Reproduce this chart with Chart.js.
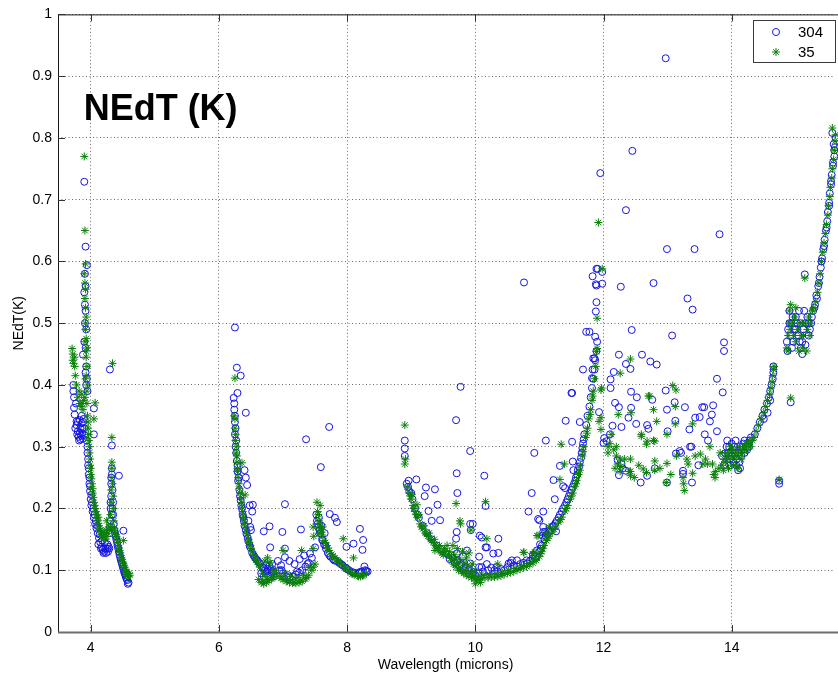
<!DOCTYPE html>
<html>
<head>
<meta charset="utf-8">
<title>NEdT (K)</title>
<script src="https://cdn.jsdelivr.net/npm/chart.js@4.4.0/dist/chart.umd.min.js"></script>
<style>
  html, body { margin: 0; padding: 0; background: #fff; overflow: hidden; }
  #chart { display: block; }
</style>
</head>
<body>
<canvas id="chart" width="838" height="677"></canvas>
<script>
// NEdT vs wavelength, two detector runs (304 and 35)
"use strict";

// Axis ticks
var xTicks = [4, 6, 8, 10, 12, 14];
var yTicks = [0, 0.1, 0.2, 0.3, 0.4, 0.5, 0.6, 0.7, 0.8, 0.9, 1];
var yTickLabels = ['0', '0.1', '0.2', '0.3', '0.4', '0.5', '0.6', '0.7', '0.8', '0.9', '1'];

// Series names
var seriesNames = ['304', '35'];

// [wavelength (microns), NEdT (K)], band by band
var band1_304 = [
  [3.90, 0.729], [3.92, 0.624], [3.94, 0.594], [4.05, 0.362], [4.05, 0.320], [4.44, 0.253],
  [4.30, 0.425], [4.33, 0.302], [4.51, 0.164],
  [3.91, 0.58], [3.92, 0.56], [3.90, 0.55], [3.91, 0.53], [3.92, 0.52], [3.91, 0.50], [3.93, 0.49],
  [3.90, 0.47], [3.92, 0.46], [3.88, 0.449], [3.93, 0.43], [3.92, 0.42], [3.94, 0.41], [3.93, 0.40], [3.95, 0.39],
  [3.73, 0.400], [3.73, 0.39], [3.74, 0.363], [3.75, 0.352], [3.78, 0.341], [3.77, 0.37], [3.74, 0.38],
  [3.78, 0.335], [3.80, 0.325], [3.81, 0.316], [3.83, 0.343], [3.84, 0.33], [3.85, 0.318], [3.86, 0.338],
  [3.87, 0.322], [3.88, 0.313], [3.89, 0.345], [3.90, 0.33], [3.91, 0.318], [3.82, 0.31], [3.86, 0.35],
  [3.79, 0.32], [3.83, 0.322], [3.87, 0.33], [3.80, 0.34], [3.84, 0.312], [3.88, 0.34], [3.76, 0.33],
  [3.94, 0.31], [3.95, 0.29], [3.96, 0.27], [3.97, 0.255], [3.98, 0.24], [3.99, 0.228], [4.00, 0.215],
  [4.01, 0.205], [4.03, 0.195], [4.05, 0.185], [4.07, 0.175], [4.09, 0.168], [4.11, 0.16], [4.13, 0.152],
  [4.15, 0.145], [4.17, 0.138], [4.19, 0.133], [4.21, 0.13], [4.24, 0.128], [4.27, 0.13], [4.29, 0.135],
  [3.95, 0.30], [3.96, 0.28], [3.97, 0.265], [3.98, 0.25], [3.99, 0.236], [4.01, 0.222], [4.02, 0.21],
  [4.04, 0.2], [4.06, 0.19], [4.08, 0.18], [4.10, 0.172], [4.14, 0.158], [4.26, 0.135], [4.28, 0.138],
  [4.12, 0.142], [4.16, 0.135], [4.20, 0.128], [4.23, 0.135], [4.26, 0.142], [4.18, 0.148], [4.22, 0.145],
  [4.30, 0.16], [4.31, 0.18], [4.31, 0.20], [4.32, 0.22], [4.32, 0.24], [4.33, 0.255], [4.33, 0.265],
  [4.34, 0.23], [4.35, 0.21], [4.35, 0.19], [4.36, 0.175], [4.32, 0.25], [4.31, 0.21], [4.33, 0.19],
  [4.34, 0.2], [4.30, 0.17],
  [4.37, 0.165], [4.39, 0.155], [4.41, 0.145], [4.43, 0.135], [4.45, 0.125], [4.47, 0.117], [4.49, 0.11],
  [4.51, 0.102], [4.53, 0.095], [4.55, 0.089], [4.57, 0.084], [4.59, 0.080], [4.58, 0.078],
  [4.38, 0.16], [4.40, 0.15], [4.42, 0.14], [4.44, 0.13], [4.46, 0.121], [4.48, 0.113], [4.50, 0.106],
  [4.52, 0.098], [4.54, 0.092], [4.56, 0.086]
];

var band1_35 = [
  [3.90, 0.770], [3.91, 0.650], [3.92, 0.596], [4.34, 0.435], [4.33, 0.315], [4.07, 0.371], [4.05, 0.345],
  [4.51, 0.148],
  [3.71, 0.459], [3.72, 0.45], [3.72, 0.44], [3.73, 0.435], [3.75, 0.445], [3.75, 0.43], [3.76, 0.415], [3.78, 0.40],
  [3.90, 0.58], [3.91, 0.565], [3.92, 0.555], [3.91, 0.54], [3.92, 0.525], [3.93, 0.51], [3.92, 0.49],
  [3.93, 0.475], [3.94, 0.46], [3.93, 0.445], [3.94, 0.43], [3.93, 0.415], [3.95, 0.40], [3.94, 0.39],
  [3.92, 0.50], [3.91, 0.47], [3.93, 0.455], [3.92, 0.41], [3.94, 0.37],
  [3.80, 0.38], [3.83, 0.37], [3.85, 0.365], [3.87, 0.37], [3.89, 0.375], [3.91, 0.38], [3.86, 0.385],
  [3.82, 0.39], [3.88, 0.36],
  [3.95, 0.35], [3.96, 0.33], [3.97, 0.31], [3.98, 0.29], [3.99, 0.27], [4.00, 0.255], [4.02, 0.24],
  [4.03, 0.225], [4.05, 0.21], [4.07, 0.2], [4.09, 0.19], [4.11, 0.18], [4.13, 0.172], [4.15, 0.165],
  [4.17, 0.16], [4.19, 0.155], [4.21, 0.152], [4.23, 0.15], [4.25, 0.155], [4.27, 0.16], [4.29, 0.165],
  [3.96, 0.34], [3.97, 0.32], [3.98, 0.30], [3.99, 0.28], [4.00, 0.265], [4.01, 0.248], [4.03, 0.232],
  [4.04, 0.218], [4.06, 0.205], [4.08, 0.195], [4.10, 0.185], [4.12, 0.176], [4.14, 0.168], [4.16, 0.162],
  [4.18, 0.158], [4.22, 0.16], [4.24, 0.165], [4.28, 0.17], [4.25, 0.18], [4.12, 0.186],
  [4.31, 0.17], [4.31, 0.19], [4.32, 0.21], [4.32, 0.23], [4.33, 0.25], [4.33, 0.265], [4.33, 0.275],
  [4.34, 0.24], [4.35, 0.22], [4.35, 0.2], [4.36, 0.18], [4.37, 0.168],
  [4.39, 0.158], [4.41, 0.15], [4.43, 0.14], [4.45, 0.132], [4.47, 0.124], [4.49, 0.117], [4.51, 0.11],
  [4.53, 0.104], [4.55, 0.098], [4.57, 0.094], [4.59, 0.09], [4.61, 0.092],
  [4.38, 0.162], [4.40, 0.154], [4.42, 0.145], [4.44, 0.136], [4.46, 0.128], [4.48, 0.12], [4.50, 0.113],
  [4.52, 0.107], [4.54, 0.101], [4.56, 0.096], [4.58, 0.092], [4.60, 0.095]
];

var band2_304 = [
  [6.25, 0.493], [6.28, 0.428], [6.34, 0.415], [6.29, 0.387], [6.42, 0.355], [7.36, 0.312], [7.72, 0.332],
  [7.59, 0.267], [7.03, 0.207], [6.79, 0.171], [6.70, 0.163], [6.99, 0.162], [7.28, 0.166], [8.20, 0.167],
  [8.25, 0.149], [8.24, 0.133], [8.10, 0.143], [7.99, 0.138], [7.73, 0.191], [7.81, 0.185], [7.84, 0.178],
  [6.53, 0.206], [6.49, 0.170], [6.80, 0.137], [7.03, 0.135], [8.27, 0.106],
  [6.40, 0.262], [6.42, 0.25], [6.44, 0.238], [6.48, 0.205], [6.52, 0.195], [6.46, 0.18], [6.50, 0.165],
  [6.23, 0.379], [6.24, 0.36], [6.25, 0.34], [6.25, 0.32], [6.26, 0.30], [6.28, 0.277], [6.29, 0.26],
  [6.30, 0.245], [6.32, 0.23], [6.34, 0.213], [6.36, 0.2], [6.38, 0.186], [6.40, 0.172], [6.43, 0.159],
  [6.46, 0.147], [6.49, 0.137], [6.52, 0.128], [6.56, 0.121], [6.60, 0.116], [6.64, 0.111],
  [6.24, 0.37], [6.25, 0.35], [6.26, 0.33], [6.27, 0.31], [6.27, 0.29], [6.29, 0.27], [6.31, 0.25],
  [6.33, 0.22], [6.35, 0.205], [6.37, 0.19], [6.39, 0.18], [6.42, 0.165], [6.45, 0.152], [6.48, 0.14],
  [6.54, 0.124], [6.58, 0.118], [6.62, 0.113],
  [6.68, 0.105], [6.72, 0.10], [6.75, 0.098], [6.78, 0.10], [6.81, 0.102], [6.84, 0.098], [6.74, 0.108],
  [6.79, 0.107], [6.70, 0.09], [6.86, 0.09], [6.66, 0.095], [6.83, 0.11], [6.70, 0.103], [6.76, 0.102],
  [6.82, 0.096],
  [6.95, 0.10], [7.00, 0.095], [7.05, 0.09], [7.10, 0.088], [7.15, 0.09], [7.20, 0.093], [7.25, 0.096],
  [7.30, 0.10], [7.35, 0.106], [7.40, 0.112], [7.45, 0.12], [7.03, 0.121], [7.10, 0.115], [7.18, 0.11],
  [7.26, 0.118], [7.33, 0.124], [7.42, 0.127], [7.50, 0.137], [6.92, 0.115], [6.97, 0.108],
  [6.98, 0.1], [7.08, 0.092], [7.22, 0.098], [7.38, 0.11],
  [7.52, 0.19], [7.53, 0.18], [7.55, 0.17], [7.58, 0.16], [7.61, 0.15], [7.64, 0.142], [7.67, 0.135],
  [7.70, 0.128], [7.74, 0.122], [7.78, 0.118], [7.83, 0.115], [7.88, 0.112], [7.93, 0.108], [7.98, 0.104],
  [8.03, 0.1], [8.08, 0.097], [8.13, 0.095], [8.18, 0.096], [8.23, 0.098], [8.28, 0.1], [8.32, 0.098],
  [7.56, 0.185], [7.60, 0.172], [7.65, 0.16], [7.54, 0.175], [7.57, 0.165], [7.62, 0.148], [7.66, 0.14],
  [7.72, 0.125], [7.80, 0.116], [7.90, 0.11], [8.00, 0.102], [8.10, 0.096], [8.20, 0.097], [8.30, 0.099]
];

var band2_35 = [
  [6.25, 0.411], [6.36, 0.274], [6.41, 0.222],
  [6.24, 0.35], [6.25, 0.33], [6.26, 0.31], [6.27, 0.29], [6.28, 0.275], [6.29, 0.26], [6.31, 0.24],
  [6.33, 0.225], [6.35, 0.21], [6.37, 0.195], [6.39, 0.182], [6.41, 0.17], [6.44, 0.157], [6.47, 0.145],
  [6.50, 0.135], [6.54, 0.125], [6.58, 0.117], [6.62, 0.11],
  [6.25, 0.345], [6.26, 0.32], [6.27, 0.30], [6.28, 0.285], [6.29, 0.265], [6.30, 0.25], [6.32, 0.232],
  [6.34, 0.218], [6.36, 0.202], [6.38, 0.188], [6.40, 0.176], [6.43, 0.163], [6.46, 0.15], [6.49, 0.14],
  [6.52, 0.13], [6.56, 0.12], [6.60, 0.113],
  [6.66, 0.08], [6.70, 0.078], [6.74, 0.08], [6.78, 0.083], [6.82, 0.086], [6.86, 0.09], [6.90, 0.095],
  [6.68, 0.095], [6.72, 0.115], [6.76, 0.12], [6.80, 0.112], [6.64, 0.105], [6.72, 0.09], [6.85, 0.1],
  [6.68, 0.082], [6.76, 0.085], [6.84, 0.088], [6.62, 0.085], [6.88, 0.1],
  [6.95, 0.09], [7.00, 0.085], [7.05, 0.082], [7.10, 0.08], [7.15, 0.079], [7.20, 0.079], [7.25, 0.08],
  [7.30, 0.082], [7.35, 0.086], [7.40, 0.092], [7.45, 0.1], [7.50, 0.11], [7.02, 0.095], [7.12, 0.09],
  [7.22, 0.088], [7.32, 0.092], [7.42, 0.105], [7.00, 0.132], [7.29, 0.132], [7.47, 0.135],
  [6.97, 0.087], [7.07, 0.083], [7.17, 0.081], [7.27, 0.083], [7.37, 0.088], [7.47, 0.105],
  [7.53, 0.21], [7.54, 0.195], [7.56, 0.18], [7.58, 0.168], [7.61, 0.157], [7.64, 0.148], [7.68, 0.14],
  [7.72, 0.132], [7.76, 0.126], [7.81, 0.12], [7.86, 0.115], [7.91, 0.11], [7.96, 0.105], [8.01, 0.1],
  [8.06, 0.096], [8.11, 0.093], [8.16, 0.091], [8.21, 0.09], [8.26, 0.092], [8.30, 0.095], [7.56, 0.16],
  [7.62, 0.17], [7.58, 0.205], [7.47, 0.17], [7.48, 0.155], [7.94, 0.151], [8.10, 0.12],
  [7.55, 0.19], [7.57, 0.175], [7.60, 0.162], [7.66, 0.145], [7.70, 0.136], [7.78, 0.123], [7.84, 0.117],
  [7.88, 0.112], [7.98, 0.102], [8.08, 0.094], [8.18, 0.09], [8.24, 0.091]
];

var band3_304 = [
  [8.90, 0.310], [8.90, 0.297], [8.90, 0.285], [9.77, 0.397], [9.70, 0.343], [9.92, 0.293], [9.71, 0.257],
  [10.14, 0.253], [9.72, 0.225], [10.16, 0.204], [8.96, 0.245], [9.08, 0.247], [9.23, 0.234], [9.37, 0.231],
  [9.21, 0.220], [9.41, 0.206], [9.27, 0.196], [9.32, 0.180], [9.45, 0.181], [9.92, 0.175], [9.96, 0.175],
  [10.07, 0.156], [10.36, 0.151], [10.18, 0.137], [10.36, 0.128], [10.52, 0.111], [10.65, 0.116],
  [10.80, 0.116], [10.93, 0.119], [11.06, 0.162], [11.06, 0.170], [10.76, 0.566], [10.92, 0.290],
  [10.88, 0.225], [10.83, 0.195], [11.06, 0.195], [10.98, 0.183],
  [9.71, 0.162], [9.93, 0.165], [10.10, 0.153], [10.16, 0.137], [10.28, 0.127], [10.06, 0.122],
  [9.87, 0.132], [9.92, 0.111], [9.81, 0.122], [9.71, 0.127], [9.70, 0.151], [9.97, 0.097], [10.06, 0.105],
  [10.18, 0.11], [10.33, 0.105], [10.45, 0.10], [10.57, 0.116], [10.81, 0.111], [10.89, 0.119],
  [10.96, 0.132], [11.01, 0.142], [11.05, 0.156],
  [8.93, 0.24], [8.97, 0.228], [9.02, 0.215], [9.06, 0.2], [9.12, 0.185], [9.18, 0.172], [9.25, 0.16],
  [9.32, 0.15], [9.40, 0.14], [9.47, 0.133], [9.53, 0.128], [9.58, 0.125], [8.95, 0.235], [9.0, 0.225],
  [9.1, 0.19],
  [9.65, 0.12], [9.72, 0.115], [9.78, 0.11], [9.85, 0.105], [9.90, 0.10], [9.95, 0.095], [10.0, 0.092],
  [10.05, 0.095], [10.12, 0.098], [10.2, 0.1], [10.3, 0.1], [10.4, 0.102], [10.5, 0.105], [10.6, 0.108],
  [10.7, 0.11], [10.85, 0.115], [10.95, 0.122], [11.0, 0.13],
  [9.6, 0.118], [9.68, 0.112], [9.75, 0.108], [9.82, 0.1], [10.1, 0.105], [10.25, 0.104], [10.35, 0.098],
  [10.55, 0.112], [10.65, 0.106], [10.75, 0.112], [10.9, 0.125], [11.02, 0.135]
];

var band3_35 = [
  [8.90, 0.335], [8.91, 0.28], [8.90, 0.272],
  [8.94, 0.235], [8.97, 0.225], [9.0, 0.215], [9.03, 0.205], [9.06, 0.195], [9.1, 0.185], [9.14, 0.175],
  [9.18, 0.167], [9.22, 0.16], [9.26, 0.155], [9.3, 0.15], [9.34, 0.145], [9.38, 0.14], [9.42, 0.135],
  [9.46, 0.13], [9.5, 0.125], [9.53, 0.13], [9.56, 0.14], [9.01, 0.223], [9.09, 0.206], [9.12, 0.19],
  [9.20, 0.172], [9.28, 0.16], [9.36, 0.15], [9.44, 0.14], [9.37, 0.132],
  [9.52, 0.135], [9.48, 0.128], [9.40, 0.138], [9.32, 0.148], [9.24, 0.158], [9.16, 0.17], [9.08, 0.19],
  [9.04, 0.2], [8.99, 0.22], [9.58, 0.125], [9.60, 0.13],
  [9.70, 0.208], [10.16, 0.211], [9.76, 0.18], [9.77, 0.175], [9.93, 0.165], [10.18, 0.151], [10.35, 0.11],
  [10.75, 0.129], [10.89, 0.127], [10.96, 0.156], [10.76, 0.129], [10.93, 0.129],
  [9.62, 0.12], [9.66, 0.11], [9.70, 0.105], [9.74, 0.10], [9.78, 0.098], [9.82, 0.095], [9.86, 0.092],
  [9.9, 0.09], [9.94, 0.088], [9.98, 0.086], [10.02, 0.084], [10.06, 0.085], [10.1, 0.087], [10.15, 0.088],
  [10.2, 0.088], [10.25, 0.089], [10.3, 0.089], [10.35, 0.09], [10.4, 0.091], [10.45, 0.093], [10.5, 0.095],
  [10.55, 0.096], [10.6, 0.098], [10.65, 0.1], [10.7, 0.102], [10.75, 0.104], [10.8, 0.106], [10.85, 0.109],
  [10.9, 0.112], [10.95, 0.116], [11.0, 0.122], [9.68, 0.125], [9.75, 0.118], [9.82, 0.112], [9.88, 0.108],
  [9.95, 0.11], [10.0, 0.1], [9.92, 0.098], [9.86, 0.12], [9.80, 0.13], [9.72, 0.135], [9.65, 0.14],
  [9.90, 0.128], [9.63, 0.115], [9.67, 0.118], [9.71, 0.11], [9.76, 0.105], [9.84, 0.1], [9.96, 0.094],
  [10.04, 0.09], [10.12, 0.092], [10.22, 0.093], [10.32, 0.094], [10.42, 0.096], [10.52, 0.099],
  [10.62, 0.103], [10.72, 0.107], [10.82, 0.111], [10.92, 0.118], [11.02, 0.127], [10.08, 0.08],
  [10.0, 0.078]
];

var band4_304 = [
  [11.50, 0.387], [11.41, 0.342], [11.63, 0.340], [11.51, 0.308], [11.10, 0.310], [11.22, 0.246],
  [11.32, 0.269], [11.40, 0.233], [11.52, 0.276], [11.53, 0.262], [11.24, 0.215], [11.37, 0.236],
  [11.26, 0.163], [11.09, 0.162], [11.00, 0.181],
  [11.04, 0.14], [11.08, 0.15], [11.12, 0.158], [11.17, 0.165], [11.22, 0.172], [11.27, 0.18], [11.32, 0.19],
  [11.37, 0.2], [11.42, 0.21], [11.46, 0.22], [11.5, 0.23], [11.54, 0.24], [11.57, 0.25], [11.6, 0.262],
  [11.63, 0.275], [11.66, 0.29], [11.68, 0.305], [11.7, 0.32], [11.73, 0.335], [11.75, 0.35], [11.78, 0.365],
  [11.8, 0.38], [11.82, 0.395], [11.84, 0.41], [11.86, 0.425], [11.87, 0.44], [11.89, 0.455], [11.9, 0.47],
  [11.1, 0.155], [11.15, 0.162], [11.2, 0.17], [11.25, 0.176], [11.3, 0.185], [11.35, 0.195], [11.4, 0.205],
  [11.44, 0.215], [11.48, 0.225], [11.52, 0.235], [11.56, 0.245], [11.59, 0.255], [11.62, 0.268],
  [11.65, 0.282], [11.67, 0.298], [11.69, 0.312],
  [11.83, 0.576], [11.89, 0.588], [11.89, 0.561], [11.89, 0.534], [11.88, 0.519], [11.78, 0.486],
  [11.87, 0.478], [11.86, 0.443], [11.68, 0.425], [11.83, 0.425], [11.82, 0.411],
  [11.95, 0.743], [12.45, 0.779], [12.35, 0.683], [13.81, 0.644], [12.99, 0.620], [13.42, 0.620],
  [12.97, 0.929], [11.91, 0.588], [11.98, 0.583], [11.88, 0.563], [11.98, 0.564], [12.27, 0.559], [12.78, 0.565],
  [13.31, 0.540], [13.39, 0.522], [12.44, 0.489], [13.07, 0.480], [11.73, 0.486], [13.88, 0.469],
  [13.88, 0.455], [12.24, 0.449], [12.60, 0.449], [12.73, 0.438], [12.83, 0.433], [12.35, 0.434],
  [12.42, 0.426], [11.84, 0.443], [12.16, 0.421], [12.11, 0.409], [12.11, 0.395], [13.77, 0.410],
  [13.86, 0.388], [12.97, 0.391], [12.43, 0.389], [12.76, 0.376], [11.51, 0.387], [12.18, 0.371],
  [12.24, 0.364], [12.43, 0.363], [12.99, 0.360], [13.11, 0.372], [13.27, 0.364], [13.54, 0.364],
  [13.57, 0.364], [13.71, 0.367], [12.39, 0.347], [11.93, 0.356], [12.14, 0.334], [12.28, 0.332],
  [12.51, 0.337], [12.68, 0.335], [13.12, 0.342], [13.43, 0.347], [13.50, 0.348], [13.66, 0.341],
  [13.69, 0.352], [12.70, 0.329], [13.00, 0.325], [13.34, 0.328], [13.58, 0.320], [13.77, 0.325],
  [13.19, 0.293], [13.37, 0.300], [12.10, 0.320], [12.05, 0.309], [12.01, 0.314], [12.00, 0.306],
  [12.22, 0.278], [12.28, 0.272], [12.30, 0.265], [12.24, 0.254], [12.35, 0.261], [12.58, 0.242],
  [12.68, 0.253], [12.80, 0.265], [12.99, 0.242], [13.13, 0.289], [13.21, 0.290], [13.24, 0.261],
  [13.24, 0.256], [13.38, 0.242], [13.35, 0.300], [13.90, 0.289], [14.13, 0.265], [14.10, 0.262],
  [14.74, 0.245], [14.74, 0.240], [15.14, 0.579], [12.52, 0.38], [13.48, 0.27], [13.63, 0.31],
  [13.92, 0.30], [13.95, 0.29], [13.97, 0.28], [14.0, 0.285], [14.02, 0.295], [14.05, 0.29], [14.08, 0.28],
  [14.1, 0.29], [14.13, 0.30], [14.16, 0.295], [14.18, 0.305], [14.2, 0.31], [14.22, 0.3], [14.25, 0.305],
  [14.28, 0.31], [14.3, 0.315], [13.98, 0.27], [14.03, 0.275], [14.07, 0.27], [13.93, 0.31], [14.0, 0.305],
  [14.12, 0.275], [13.85, 0.285], [13.88, 0.27], [13.96, 0.3], [14.04, 0.3], [14.15, 0.285], [14.2, 0.29],
  [14.24, 0.295], [14.27, 0.3], [14.06, 0.31],
  [14.36, 0.32], [14.40, 0.33], [14.44, 0.34], [14.48, 0.35], [14.51, 0.36], [14.55, 0.37], [14.58, 0.38],
  [14.6, 0.39], [14.62, 0.40], [14.64, 0.41], [14.65, 0.42], [14.65, 0.43], [14.60, 0.375], [14.56, 0.355],
  [14.5, 0.345], [14.92, 0.372],
  [14.86, 0.47], [14.88, 0.49], [14.9, 0.5], [14.92, 0.48], [14.94, 0.46], [14.96, 0.47], [14.98, 0.49],
  [15.0, 0.51], [15.02, 0.5], [15.04, 0.48], [15.06, 0.47], [15.08, 0.46], [15.1, 0.47], [15.12, 0.49],
  [15.15, 0.5], [15.18, 0.51], [15.2, 0.5], [15.22, 0.49], [15.25, 0.51], [14.9, 0.52], [14.95, 0.51],
  [15.05, 0.52], [15.1, 0.45], [14.87, 0.455], [15.15, 0.465], [14.93, 0.5], [15.0, 0.49], [15.07, 0.5],
  [15.13, 0.52], [15.2, 0.48], [15.24, 0.5],
  [15.27, 0.52], [15.3, 0.53], [15.33, 0.54], [15.35, 0.56], [15.37, 0.575], [15.39, 0.59], [15.41, 0.605],
  [15.43, 0.62], [15.45, 0.635], [15.47, 0.65], [15.49, 0.665], [15.5, 0.68], [15.52, 0.695], [15.53, 0.71],
  [15.55, 0.725], [15.56, 0.74], [15.58, 0.755], [15.6, 0.77], [15.61, 0.785], [15.62, 0.8], [15.57, 0.808],
  [15.59, 0.79], [15.29, 0.525], [15.32, 0.545], [15.36, 0.565], [15.4, 0.6], [15.44, 0.625], [15.48, 0.655],
  [15.52, 0.69], [15.55, 0.73], [15.58, 0.76], [15.6, 0.78]
];

var band4_35 = [
  [11.34, 0.304], [11.39, 0.272], [11.32, 0.247], [10.98, 0.156], [11.1, 0.16], [11.15, 0.17],
  [11.03, 0.13], [11.07, 0.14], [11.11, 0.148], [11.15, 0.155], [11.2, 0.162], [11.25, 0.17], [11.3, 0.178],
  [11.35, 0.186], [11.4, 0.196], [11.44, 0.205], [11.48, 0.215], [11.52, 0.225], [11.55, 0.235], [11.58, 0.245],
  [11.61, 0.255], [11.64, 0.27], [11.67, 0.285], [11.69, 0.30], [11.72, 0.315], [11.75, 0.33], [11.77, 0.345],
  [11.8, 0.36], [11.82, 0.375], [11.84, 0.39], [11.86, 0.41], [11.88, 0.43], [11.89, 0.454], [11.90, 0.459],
  [11.90, 0.508], [11.92, 0.663], [11.98, 0.588],
  [11.05, 0.135], [11.13, 0.152], [11.23, 0.166], [11.33, 0.182], [11.42, 0.2], [11.5, 0.22], [11.57, 0.24],
  [11.63, 0.262], [11.68, 0.292], [11.74, 0.322], [11.79, 0.352], [11.83, 0.382],
  [11.97, 0.395], [11.96, 0.347], [11.96, 0.328], [12.07, 0.30], [12.07, 0.29], [12.23, 0.352], [12.26, 0.28],
  [12.26, 0.26], [12.42, 0.26], [12.42, 0.28], [12.59, 0.32], [12.70, 0.382], [12.83, 0.341], [12.67, 0.304],
  [12.78, 0.31],
  [12.42, 0.442], [12.26, 0.419], [13.08, 0.399], [13.13, 0.392], [12.72, 0.382], [11.96, 0.392],
  [12.43, 0.355], [12.78, 0.360], [11.93, 0.341], [13.12, 0.365], [13.12, 0.337], [13.39, 0.337],
  [12.99, 0.320], [12.59, 0.317], [12.68, 0.309], [12.80, 0.309], [12.20, 0.300], [12.10, 0.305],
  [12.16, 0.295], [12.20, 0.285], [12.22, 0.272], [12.18, 0.265], [12.27, 0.268], [12.42, 0.253],
  [12.40, 0.26], [12.62, 0.264], [12.67, 0.258], [12.80, 0.277], [12.80, 0.262], [12.99, 0.273],
  [12.98, 0.242], [13.14, 0.285], [13.30, 0.280], [13.32, 0.272], [13.24, 0.250], [13.25, 0.24],
  [13.26, 0.229], [13.39, 0.257], [13.43, 0.285], [13.51, 0.288], [13.59, 0.280], [13.55, 0.272],
  [13.62, 0.272], [13.70, 0.272], [13.74, 0.250], [12.55, 0.27], [12.48, 0.25], [12.88, 0.265],
  [13.05, 0.255], [12.33, 0.28], [12.12, 0.32], [13.66, 0.30],
  [13.85, 0.27], [13.88, 0.28], [13.9, 0.275], [13.93, 0.285], [13.96, 0.28], [13.99, 0.29], [14.02, 0.285],
  [14.05, 0.28], [14.08, 0.29], [14.11, 0.285], [14.14, 0.295], [14.17, 0.29], [14.2, 0.3], [14.23, 0.295],
  [14.26, 0.305], [14.29, 0.3], [14.32, 0.31], [13.95, 0.265], [14.0, 0.27], [14.06, 0.27], [13.8, 0.265],
  [13.75, 0.26], [13.72, 0.255], [13.82, 0.29], [14.12, 0.3], [13.98, 0.3], [14.1, 0.265],
  [13.91, 0.29], [14.03, 0.295], [14.15, 0.28], [14.22, 0.305], [14.28, 0.31], [13.87, 0.262],
  [14.35, 0.315], [14.38, 0.325], [14.42, 0.335], [14.46, 0.345], [14.5, 0.355], [14.53, 0.365],
  [14.56, 0.375], [14.59, 0.385], [14.61, 0.395], [14.63, 0.405], [14.64, 0.415], [14.65, 0.425],
  [14.66, 0.43], [14.92, 0.379], [14.74, 0.247],
  [14.86, 0.46], [14.88, 0.48], [14.9, 0.5], [14.9, 0.52], [14.92, 0.53], [14.95, 0.5], [14.97, 0.48],
  [15.0, 0.47], [15.03, 0.49], [15.05, 0.5], [15.08, 0.48], [15.1, 0.46], [15.12, 0.48], [15.15, 0.5],
  [15.18, 0.49], [15.2, 0.51], [15.23, 0.5], [15.26, 0.52], [14.88, 0.455], [15.14, 0.573], [15.05, 0.455],
  [15.17, 0.455], [15.0, 0.525], [14.91, 0.49], [14.98, 0.51], [15.1, 0.5], [15.22, 0.48],
  [15.28, 0.525], [15.31, 0.535], [15.34, 0.55], [15.36, 0.565], [15.38, 0.58], [15.4, 0.6], [15.42, 0.615],
  [15.44, 0.63], [15.46, 0.645], [15.48, 0.66], [15.5, 0.675], [15.51, 0.69], [15.53, 0.705], [15.54, 0.72],
  [15.56, 0.735], [15.57, 0.75], [15.59, 0.765], [15.6, 0.78], [15.61, 0.795], [15.57, 0.816], [15.62, 0.805]
];

var colours = {
  s304: '#1414e6',
  s35: '#0a800a'
};

function toPoints(bands) {
  // Flatten [x, y] pairs into chart points
  var out = [];
  bands.forEach(function (band) {
    band.forEach(function (p) { out.push({ x: p[0], y: p[1] }); });
  });
  return out;
}

// Draw a MATLAB style marker (used by the legend)
function marker(ctx, style, x, y, r, colour) {
  ctx.save();
  ctx.strokeStyle = colour;
  ctx.lineWidth = 1;
  ctx.beginPath();
  if (style === 'circle') {
    ctx.arc(x, y, r, 0, Math.PI * 2);
  } else {
    var d = r * Math.SQRT1_2;
    ctx.moveTo(x - r, y); ctx.lineTo(x + r, y);
    ctx.moveTo(x, y - r); ctx.lineTo(x, y + r);
    ctx.moveTo(x - d, y - d); ctx.lineTo(x + d, y + d);
    ctx.moveTo(x - d, y + d); ctx.lineTo(x + d, y - d);
  }
  ctx.stroke();
  ctx.restore();
}

// Axes box and inward ticks, MATLAB look
var axesBox = {
  id: 'axesBox',
  beforeDatasetsDraw: function (chart) {
    var ctx = chart.ctx, a = chart.chartArea;
    var xs = chart.scales.x, ys = chart.scales.y;
    ctx.save();
    ctx.lineWidth = 1;
    ctx.strokeStyle = '#1a1a1a';
    ctx.beginPath();
    ctx.moveTo(a.left + 0.5, a.bottom);
    ctx.lineTo(a.left + 0.5, a.top + 0.5);
    ctx.lineTo(chart.width, a.top + 0.5);
    ctx.stroke();
    // inward ticks
    ctx.strokeStyle = '#333';
    ctx.beginPath();
    yTicks.forEach(function (v) {
      var py = Math.round(ys.getPixelForValue(v)) + 0.5;
      ctx.moveTo(a.left, py); ctx.lineTo(a.left + 7, py);
    });
    xTicks.forEach(function (v) {
      var px = Math.round(xs.getPixelForValue(v)) + 0.5;
      ctx.moveTo(px, a.bottom); ctx.lineTo(px, a.bottom - 7);
      ctx.moveTo(px, a.top); ctx.lineTo(px, a.top + 7);
    });
    ctx.stroke();
    ctx.lineWidth = 2;
    ctx.strokeStyle = '#6e6e6e';
    ctx.beginPath();
    ctx.moveTo(a.left, a.bottom + 0.5);
    ctx.lineTo(chart.width, a.bottom + 0.5);
    ctx.stroke();
    ctx.restore();
  }
};

// Big label inside the plot and the boxed legend
var overlay = {
  id: 'overlay',
  afterDraw: function (chart) {
    var ctx = chart.ctx, xs = chart.scales.x, ys = chart.scales.y;
    var ds = chart.data.datasets;
    ctx.save();
    ctx.fillStyle = '#000';
    ctx.font = 'bold 36px "Liberation Sans", Arial, sans-serif';
    ctx.textBaseline = 'alphabetic';
    ctx.fillText('NEdT (K)', xs.getPixelForValue(3.89), ys.getPixelForValue(0.829));

    ctx.fillStyle = '#fff';
    ctx.fillRect(753.5, 20.5, 82, 42);
    ctx.strokeStyle = '#3a3a3a';
    ctx.lineWidth = 1;
    ctx.strokeRect(753.5, 20.5, 82, 42);
    ctx.font = '15px "Liberation Sans", Arial, sans-serif';
    ctx.textBaseline = 'middle';
    ctx.fillStyle = '#000';
    ds.forEach(function (d, i) {
      var y = 32 + i * 20;
      marker(ctx, d.pointStyle, 776, y, d.pointStyle === 'circle' ? 3.5 : 4, d.borderColor);
      ctx.fillText(d.label, 798, y + 1);
    });
    ctx.restore();
  }
};

Chart.defaults.font.family = '"Liberation Sans", Arial, sans-serif';
Chart.defaults.color = '#000';

new Chart(document.getElementById('chart'), {
  type: 'scatter',
  data: {
    datasets: [
      {
        label: seriesNames[0],
        data: toPoints([band1_304, band2_304, band3_304, band4_304]),
        pointStyle: 'circle',
        pointRadius: 3.5,
        borderWidth: 1,
        borderColor: colours.s304,
        backgroundColor: 'rgba(0,0,0,0)',
        clip: false,
        order: 2
      },
      {
        label: seriesNames[1],
        data: toPoints([band1_35, band2_35, band3_35, band4_35]),
        pointStyle: 'star',
        pointRadius: 4,
        borderWidth: 1,
        borderColor: colours.s35,
        backgroundColor: colours.s35,
        clip: false,
        order: 1
      }
    ]
  },
  options: {
    responsive: false,
    animation: false,
    events: [],
    layout: { padding: { top: 11, right: 0, bottom: 0, left: 0 } },
    plugins: {
      legend: { display: false },
      tooltip: { enabled: false }
    },
    scales: {
      x: {
        type: 'linear',
        min: 3.49,
        max: 15.58,
        afterBuildTicks: function (scale) {
          scale.ticks = xTicks.map(function (v) { return { value: v }; });
        },
        afterFit: function (scale) { scale.height = 45; },
        grid: { color: '#6a6a6a', lineWidth: 1, drawTicks: false },
        border: { display: false, dash: [1, 2.5] },
        ticks: { padding: 8, font: { size: 14 } },
        title: {
          display: true,
          text: 'Wavelength (microns)',
          font: { size: 14 },
          padding: { top: 0, bottom: 3 }
        }
      },
      y: {
        min: 0,
        max: 1,
        afterBuildTicks: function (scale) {
          scale.ticks = yTicks.map(function (v) { return { value: v }; });
        },
        afterFit: function (scale) { scale.width = 58; },
        grid: { color: '#6a6a6a', lineWidth: 1, drawTicks: false },
        border: { display: false, dash: [1, 2.5] },
        ticks: {
          padding: 6,
          font: { size: 14 },
          callback: function (value, index) { return yTickLabels[index]; }
        },
        title: {
          display: true,
          text: 'NEdT(K)',
          font: { size: 14 },
          padding: { top: 11, bottom: 0 }
        }
      }
    }
  },
  plugins: [axesBox, overlay]
});
</script>
</body>
</html>
